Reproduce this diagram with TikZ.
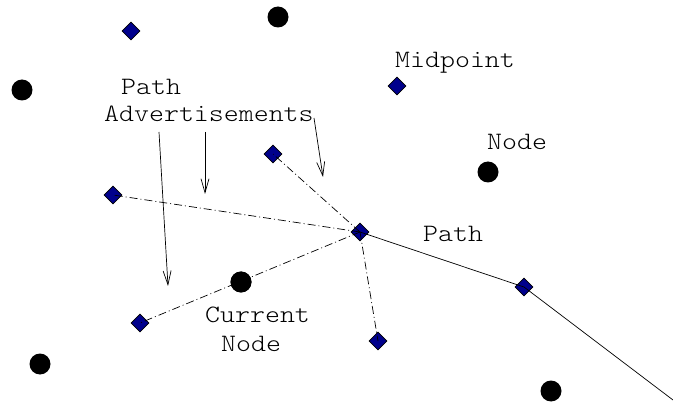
\documentclass[tikz,border=0pt]{standalone}
\usepackage{fontspec}
\usepackage{tikz}
\usetikzlibrary{arrows.meta,shapes.geometric}
\definecolor{midblue}{RGB}{0,0,140}
\newcommand{\widetxt}[1]{\scalebox{1.14}[1]{#1}}

\begin{document}
\begin{tikzpicture}[x=1pt,y=-1pt,
            midpt/.style={diamond,draw=black,fill=midblue,line width=0.7pt,inner sep=0pt,minimum width=18pt,minimum height=18pt},
            peer/.style={circle,fill=black,inner sep=0pt,minimum size=21pt},
            lbl/.style={anchor=base west,inner sep=0pt,font=\ttfamily\fontseries{l}\fontsize{25}{27}\selectfont},
            advert/.style={line width=0.7pt,dash pattern=on 8pt off 3pt on 1pt off 3pt},
            pointer/.style={line width=0.7pt,-{Straight Barb[length=14pt,width=8pt]}}]
            \useasboundingbox (0,0) rectangle (673,409);
            \node[peer] (n1) at (278,17) {};
            \node[peer] (n2) at (22,90) {};
            \node[peer] (n3) at (488,172) {};
            \node[peer] (cur) at (241,282) {};
            \node[peer] (n5) at (40,364) {};
            \node[peer] (n6) at (551,391) {};
            \node[midpt] (m1) at (131,31) {};
            \node[midpt] (m2) at (397,86) {};
            \node[midpt] (m3) at (273,154) {};
            \node[midpt] (m4) at (113,195) {};
            \node[midpt] (hub) at (360,232) {};
            \node[midpt] (m6) at (524,287) {};
            \node[midpt] (m7) at (140,323) {};
            \node[midpt] (m8) at (378,341) {};
            \coordinate (pathend) at (673,400);
            \draw[advert] (hub.center) -- (m4.center);
            \draw[advert] (hub.center) -- (m3.center);
            \draw[advert] (hub.center) -- (m7.center);
            \draw[advert] (hub.center) -- (m8.center);
            \node[peer] at (cur) {};
            \draw[line width=0.7pt] (hub.center) -- (m6.center) -- (pathend);
            \node[lbl] (midlbl) at (395,68) {\widetxt{Midpoint}};
            \node[lbl] (nodelbl) at (487,150) {\widetxt{Node}};
            \node[lbl] (pathlbl) at (423,242) {\widetxt{Path}};
            \node[lbl] (advtop) at (121,95) {\widetxt{Path}};
            \node[lbl] (advbot) at (104,122) {\widetxt{Advertisements}};
            \node[lbl] (curtop) at (205,323) {\widetxt{Current}};
            \node[lbl] (curbot) at (221,351) {\widetxt{Node}};
            \coordinate (a1s) at (159,132);
            \coordinate (a1e) at (168,286);
            \coordinate (a2s) at (205,132);
            \coordinate (a2e) at (205,194);
            \coordinate (a3s) at (314,118);
            \coordinate (a3e) at (323,177);
            \draw[pointer] (a1s) -- (a1e);
            \draw[pointer] (a2s) -- (a2e);
            \draw[pointer] (a3s) -- (a3e);
        \end{tikzpicture}
\end{document}
